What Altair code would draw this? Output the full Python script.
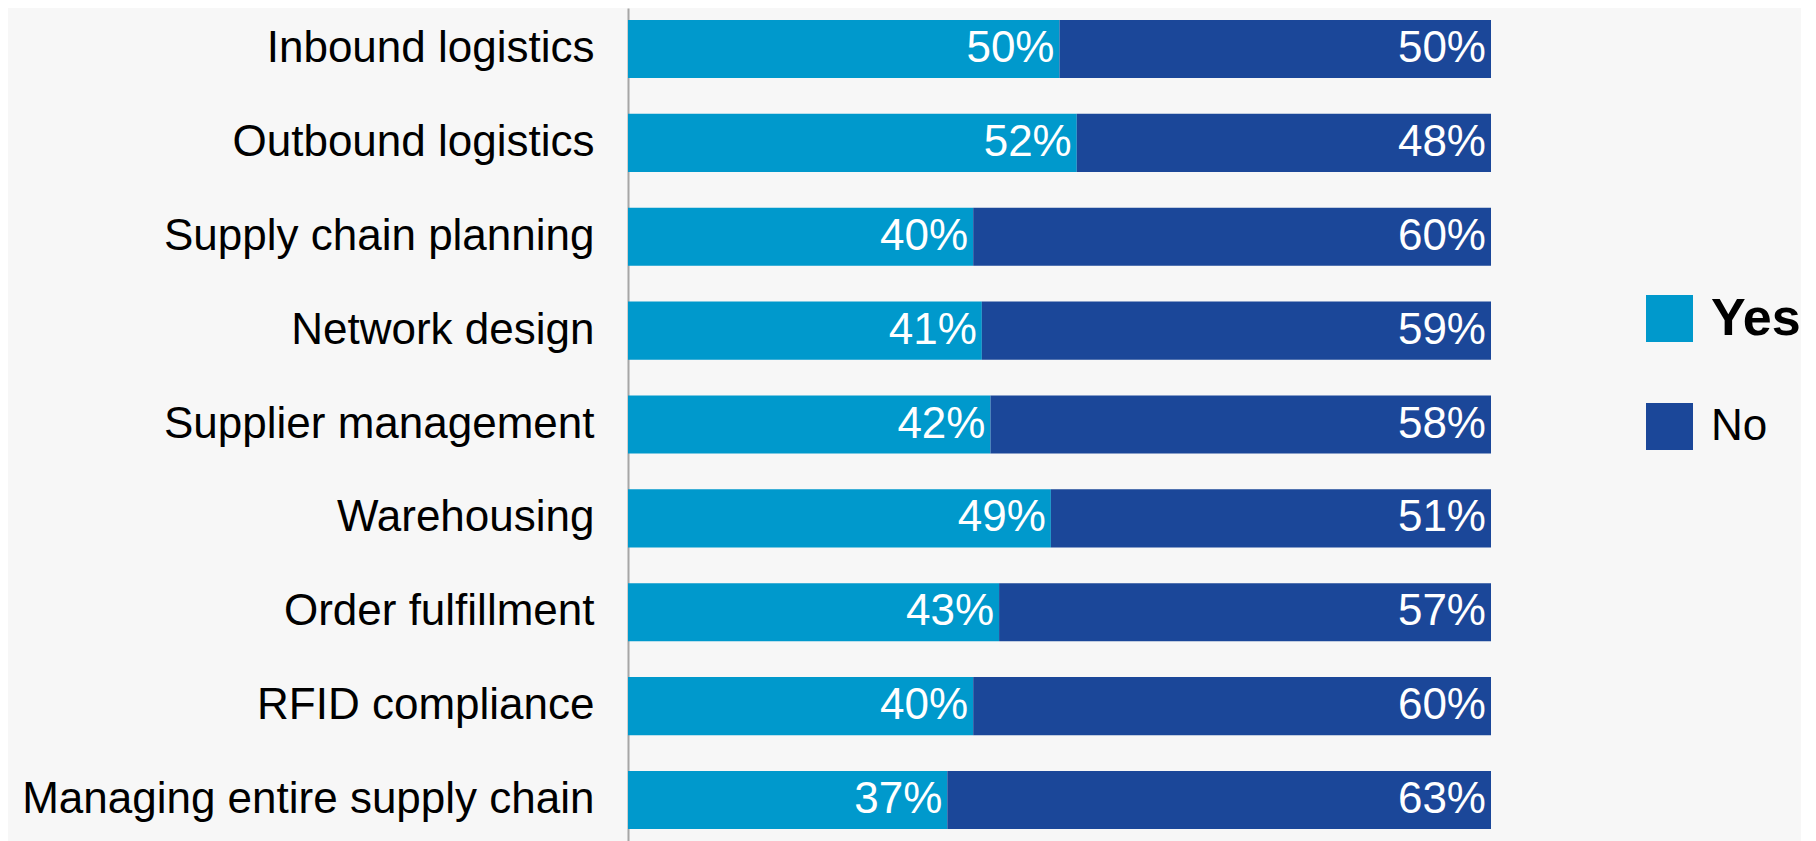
import altair as alt
import pandas as pd

categories = [
    "Inbound logistics",
    "Outbound logistics",
    "Supply chain planning",
    "Network design",
    "Supplier management",
    "Warehousing",
    "Order fulfillment",
    "RFID compliance",
    "Managing entire supply chain",
]
yes_vals = [50, 52, 40, 41, 42, 49, 43, 40, 37]
no_vals = [50, 48, 60, 59, 58, 51, 57, 60, 63]
series = ["Yes", "No"]
colors = ["#0099CC", "#1B4799"]

rows = []
for c, y, n in zip(categories, yes_vals, no_vals):
    rows.append({"category": c, "series": "Yes", "value": y, "start": 0, "end": y, "label": f"{y}%"})
    rows.append({"category": c, "series": "No", "value": n, "start": y, "end": y + n, "label": f"{n}%"})
df = pd.DataFrame(rows)

FONT = "Liberation Sans"

y_enc = alt.Y(
    "category:N",
    sort=categories,
    scale=alt.Scale(paddingInner=0.38, paddingOuter=0.127),
    axis=alt.Axis(
        title=None,
        ticks=False,
        grid=False,
        labelPadding=34,
        labelFontSize=44,
        labelFont=FONT,
        labelColor="#000000",
        labelLimit=0,
        domainColor="#a6a6a6",
        domainWidth=2,
    ),
)

base = alt.Chart(df)

bars = base.mark_bar().encode(
    y=y_enc,
    x=alt.X("start:Q", scale=alt.Scale(domain=[0, 100], nice=False), axis=None),
    x2="end:Q",
    color=alt.Color(
        "series:N",
        scale=alt.Scale(domain=series, range=colors),
        legend=alt.Legend(
            title=None,
            orient="none",
            legendX=1018,
            legendY=287,
            symbolType="square",
            symbolSize=2209,
            symbolStrokeWidth=0,
            labelFont=FONT,
            labelColor="#000000",
            labelOffset=18,
            rowPadding=58,
            padding=0,
            labelFontSize=alt.ExprRef("datum.label === 'Yes' ? 52 : 44"),
            labelFontWeight=alt.ExprRef("datum.label === 'Yes' ? 'bold' : 'normal'"),
        ),
    ),
)

text = base.mark_text(
    align="right", baseline="middle", dx=-5, color="white", fontSize=44, font=FONT
).encode(
    y=alt.Y("category:N", sort=categories),
    x=alt.X("end:Q"),
    text="label:N",
)

chart = (
    alt.layer(bars, text)
    .properties(
        width=863,
        height=833,
        padding={"left": 13, "top": 0, "right": 0, "bottom": 0},
        background="#f7f7f7",
    )
    .configure_view(stroke=None)
)

chart.save("out.html", embed_options={"renderer": "svg", "actions": False})
